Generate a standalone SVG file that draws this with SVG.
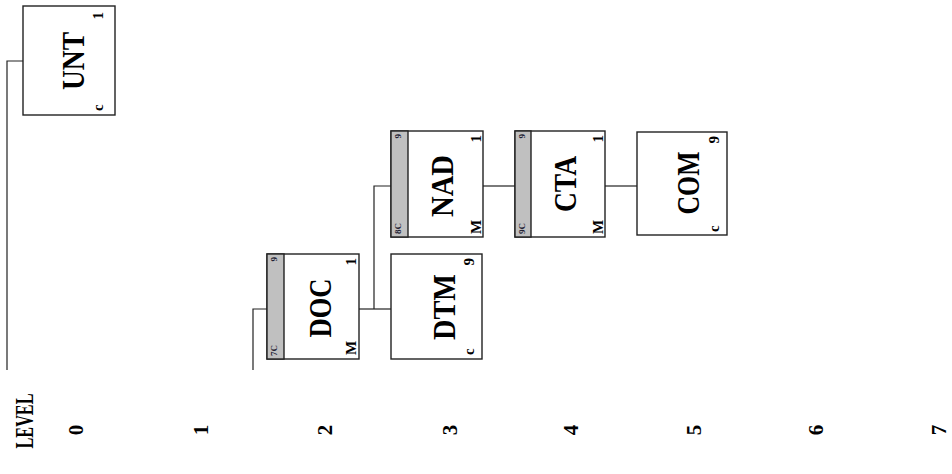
<svg xmlns="http://www.w3.org/2000/svg" width="952" height="474" viewBox="0 0 952 474">
<style>
.box{fill:#fff;stroke:#222;stroke-width:1.4}
.band{fill:#c0c0c0;stroke:#222;stroke-width:1.4}
.conn{fill:none;stroke:#222;stroke-width:1.2}
.main{font-family:"Liberation Serif","Times New Roman",serif;font-weight:bold;font-size:31px;fill:#000}
.sm{font-family:"Liberation Serif","Times New Roman",serif;font-weight:bold;font-size:15px;fill:#000}
.tiny{font-family:"Liberation Serif","Times New Roman",serif;font-weight:bold;font-size:9px;fill:#223}
.lvl{font-family:"Liberation Serif","Times New Roman",serif;font-weight:bold;font-size:21px;fill:#000}
.lvlh{font-family:"Liberation Serif","Times New Roman",serif;font-weight:bold;font-size:25px;fill:#000}
</style>
<rect width="952" height="474" fill="#fff"/>
<g id="connectors">
<polyline class="conn" points="23,61 7,61 7,370"/>
<polyline class="conn" points="267,309 253,309 253,370"/>
<line class="conn" x1="359" y1="309" x2="391" y2="309"/>
<polyline class="conn" points="374,309 374,186 391,186"/>
<line class="conn" x1="483" y1="186" x2="515" y2="186"/>
<line class="conn" x1="605" y1="186" x2="637" y2="186"/>
</g>
<g id="UNT">
<rect class="box" x="23" y="6" width="92" height="109"/>
<text class="main" text-anchor="middle" textLength="58" lengthAdjust="spacingAndGlyphs" transform="translate(84,61) rotate(-90)">UNT</text>
<text class="sm" text-anchor="end" transform="translate(103,12) rotate(-90)">1</text>
<text class="sm" text-anchor="start" transform="translate(103,111) rotate(-90)">c</text>
</g>
<g id="DOC">
<rect class="box" x="267" y="254" width="92" height="105"/>
<rect class="band" x="267" y="254" width="17" height="105"/>
<text class="main" text-anchor="middle" textLength="59" lengthAdjust="spacingAndGlyphs" transform="translate(331,308) rotate(-90)">DOC</text>
<text class="sm" text-anchor="end" transform="translate(356,258) rotate(-90)">1</text>
<text class="sm" text-anchor="start" transform="translate(356,355) rotate(-90)">M</text>
<text class="tiny" text-anchor="end" transform="translate(277,257) rotate(-90)">9</text>
<text class="tiny" text-anchor="start" transform="translate(277,356) rotate(-90)">7C</text>
</g>
<g id="DTM">
<rect class="box" x="391" y="254" width="91" height="105"/>
<text class="main" text-anchor="middle" textLength="66" lengthAdjust="spacingAndGlyphs" transform="translate(455,307) rotate(-90)">DTM</text>
<text class="sm" text-anchor="end" transform="translate(474,258) rotate(-90)">9</text>
<text class="sm" text-anchor="start" transform="translate(474,355) rotate(-90)">c</text>
</g>
<g id="NAD">
<rect class="box" x="391" y="131" width="92" height="106"/>
<rect class="band" x="391" y="131" width="17" height="106"/>
<text class="main" text-anchor="middle" textLength="62" lengthAdjust="spacingAndGlyphs" transform="translate(453,186) rotate(-90)">NAD</text>
<text class="sm" text-anchor="end" transform="translate(481,135) rotate(-90)">1</text>
<text class="sm" text-anchor="start" transform="translate(481,234) rotate(-90)">M</text>
<text class="tiny" text-anchor="end" transform="translate(401,134) rotate(-90)">9</text>
<text class="tiny" text-anchor="start" transform="translate(401,234) rotate(-90)">8C</text>
</g>
<g id="CTA">
<rect class="box" x="515" y="131" width="90" height="106"/>
<rect class="band" x="515" y="131" width="16" height="106"/>
<text class="main" text-anchor="middle" textLength="56" lengthAdjust="spacingAndGlyphs" transform="translate(576,184) rotate(-90)">CTA</text>
<text class="sm" text-anchor="end" transform="translate(603,135) rotate(-90)">1</text>
<text class="sm" text-anchor="start" transform="translate(603,234) rotate(-90)">M</text>
<text class="tiny" text-anchor="end" transform="translate(525,134) rotate(-90)">9</text>
<text class="tiny" text-anchor="start" transform="translate(525,234) rotate(-90)">9C</text>
</g>
<g id="COM">
<rect class="box" x="637" y="132" width="90" height="103"/>
<text class="main" text-anchor="middle" textLength="63" lengthAdjust="spacingAndGlyphs" transform="translate(699,183) rotate(-90)">COM</text>
<text class="sm" text-anchor="end" transform="translate(719,136) rotate(-90)">9</text>
<text class="sm" text-anchor="start" transform="translate(719,232) rotate(-90)">c</text>
</g>
<g id="levels">
<text class="lvlh" text-anchor="middle" textLength="55" lengthAdjust="spacingAndGlyphs" transform="translate(33,421) rotate(-90)">LEVEL</text>
<text class="lvl" text-anchor="middle" transform="translate(83,430) rotate(-90)">0</text>
<text class="lvl" text-anchor="middle" transform="translate(208,430) rotate(-90)">1</text>
<text class="lvl" text-anchor="middle" transform="translate(332,430) rotate(-90)">2</text>
<text class="lvl" text-anchor="middle" transform="translate(457,430) rotate(-90)">3</text>
<text class="lvl" text-anchor="middle" transform="translate(578,430) rotate(-90)">4</text>
<text class="lvl" text-anchor="middle" transform="translate(701,430) rotate(-90)">5</text>
<text class="lvl" text-anchor="middle" transform="translate(823,430) rotate(-90)">6</text>
<text class="lvl" text-anchor="middle" transform="translate(946,430) rotate(-90)">7</text>
</g>
</svg>
